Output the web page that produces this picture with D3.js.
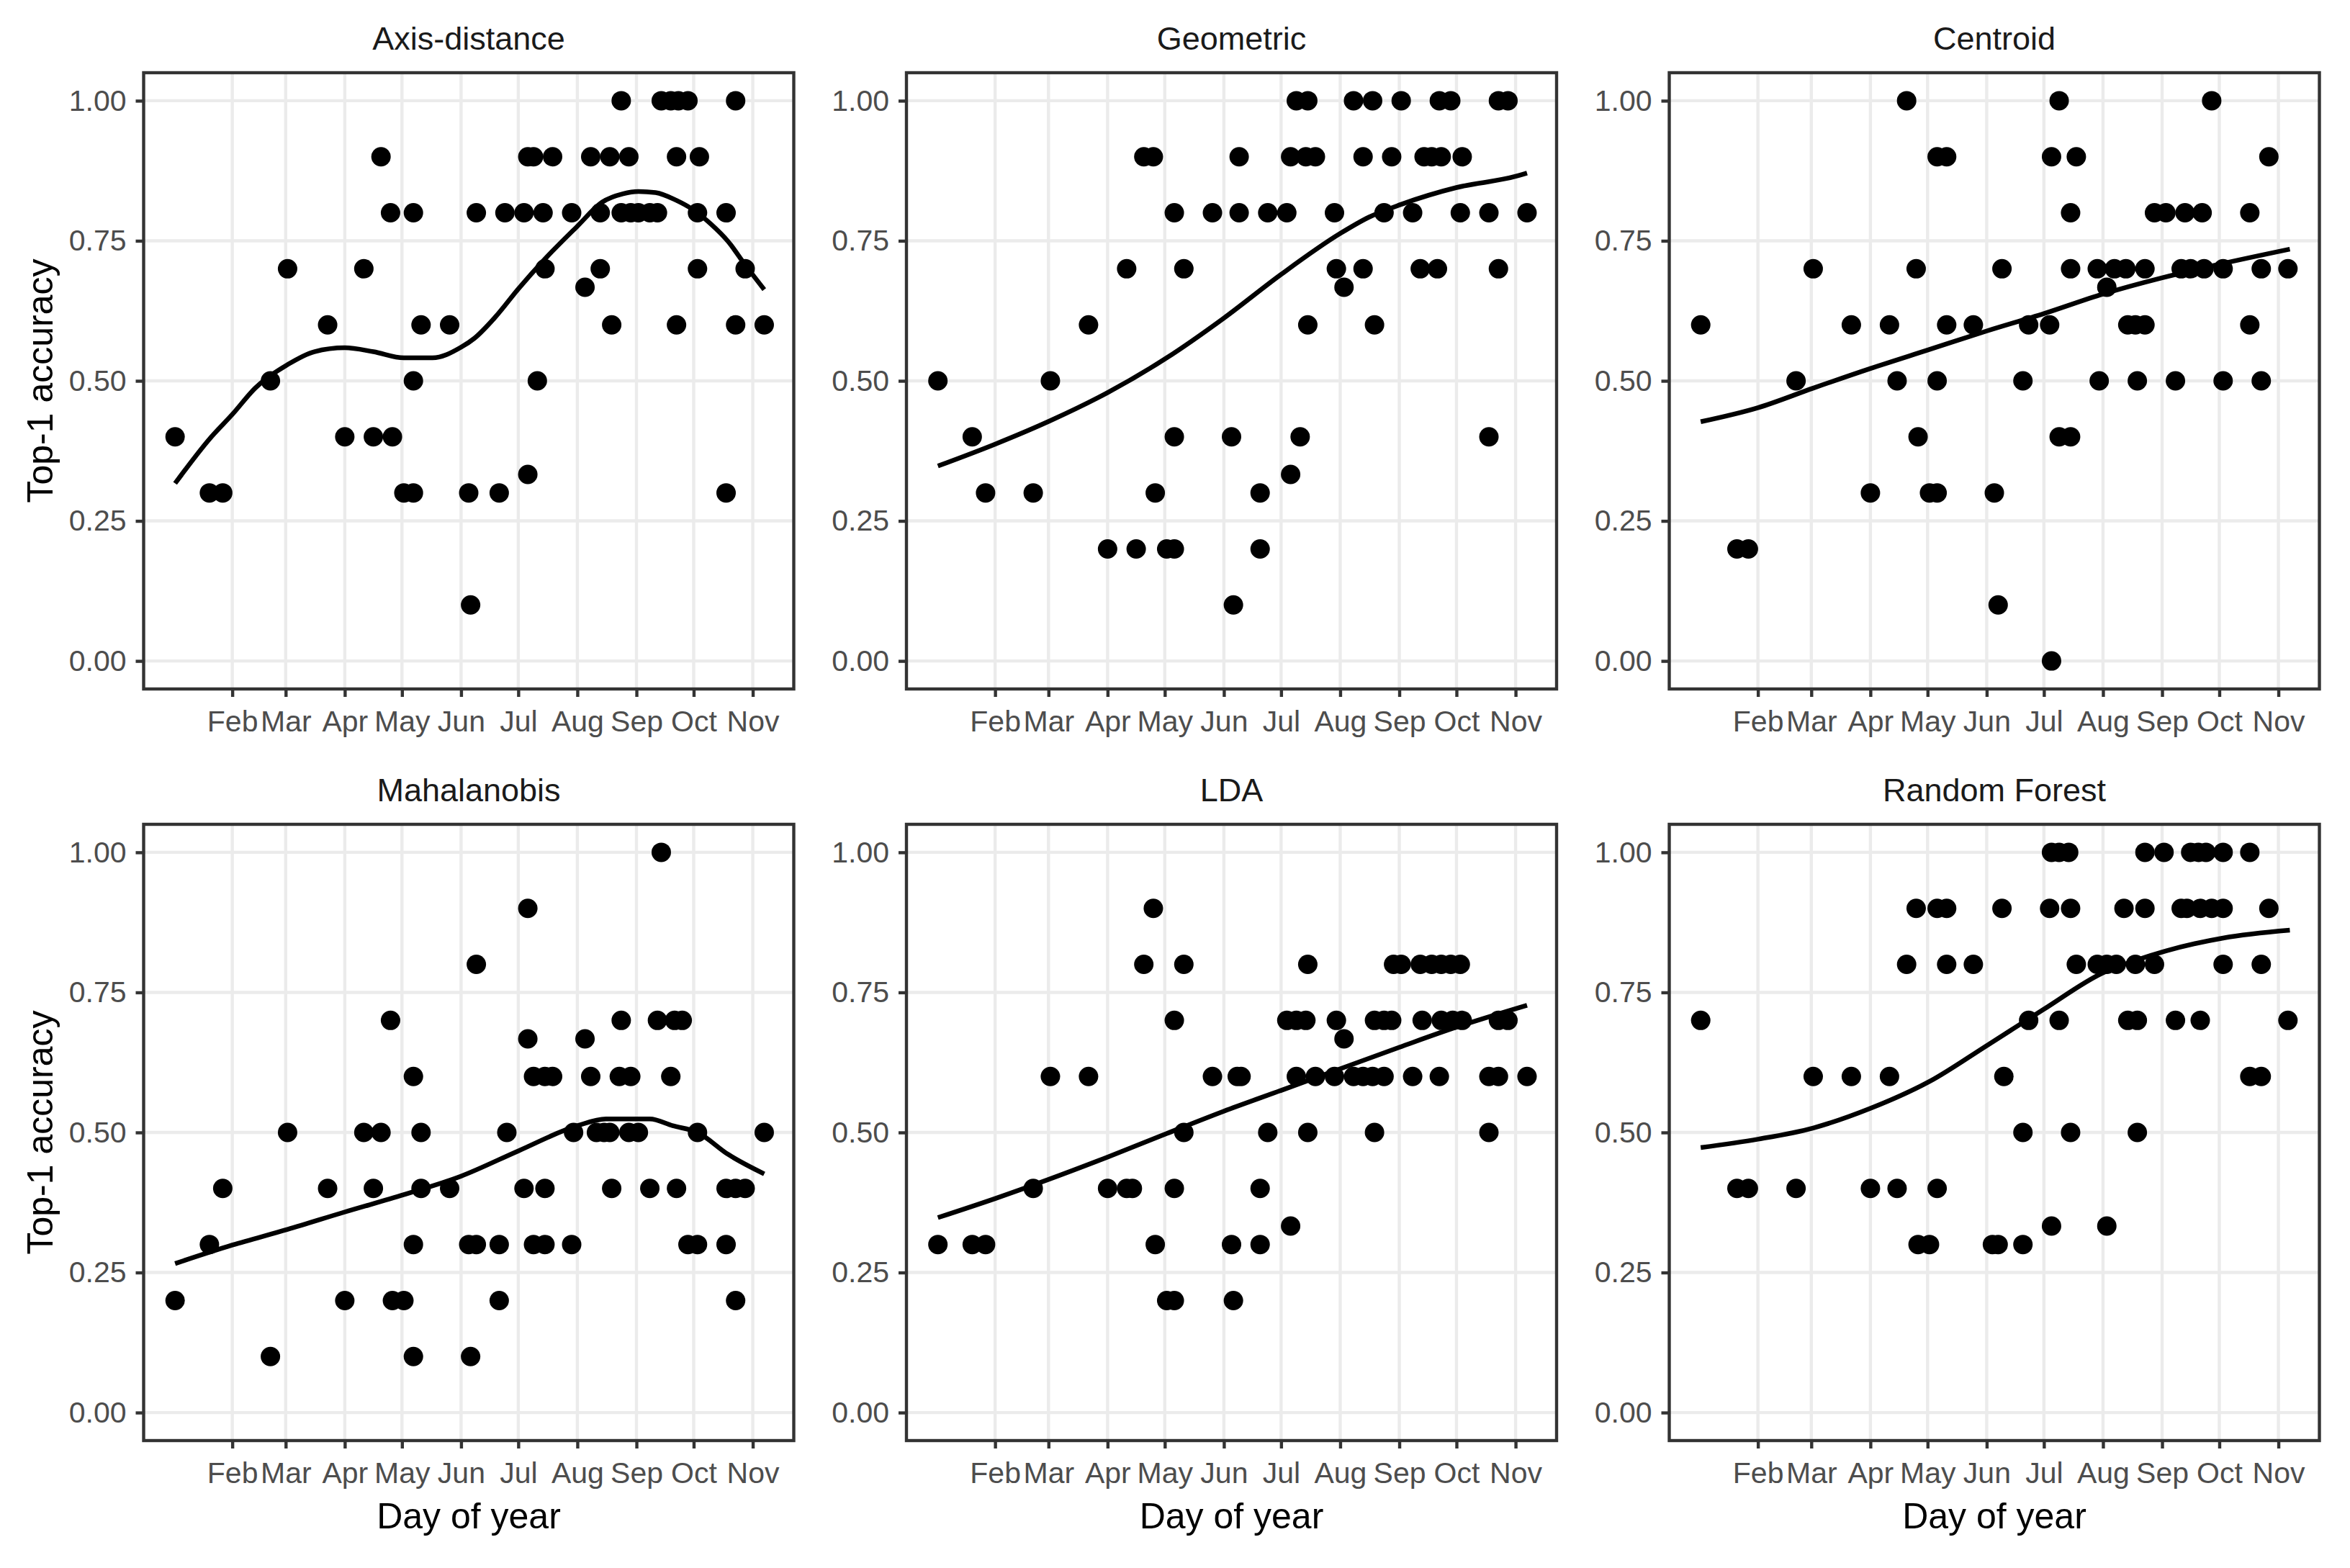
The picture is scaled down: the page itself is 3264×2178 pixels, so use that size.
<!DOCTYPE html>
<html>
<head>
<meta charset="utf-8">
<script src="https://cdn.jsdelivr.net/npm/d3@7"></script>
<style>
  body { margin: 0; background: #fff; }
  text { font-family: "Liberation Sans", Arial, sans-serif; }
</style>
</head>
<body>
<svg id="chart"></svg>
<script>

// panel titles, in facet order
const methods = ["Axis-distance", "Geometric", "Centroid", "Mahalanobis", "LDA", "Random Forest"];

// x ticks: first day of each month (day of year)
const monthDays = [32, 60, 91, 121, 152, 182, 213, 244, 274, 305];
const monthLabels = ["Feb", "Mar", "Apr", "May", "Jun", "Jul", "Aug", "Sep", "Oct", "Nov"];
const accTicks = [0, 0.25, 0.5, 0.75, 1];

// [day of year, top-1 accuracy]
const axisDistancePts = [[2,0.4],[20,0.3],[27,0.3],[52,0.5],[61,0.7],[82,0.6],[91,0.4],[101,0.7],[106,0.4],[110,0.9],
  [115,0.8],[116,0.4],[122,0.3],[127,0.8],[127,0.5],[127,0.3],[131,0.6],[146,0.6],[156,0.3],[157,0.1],[160,0.8],
  [172,0.3],[175,0.8],[185,0.8],[187,0.9],[187,0.333],[190,0.9],[192,0.5],[195,0.8],[196,0.7],[200,0.9],[210,0.8],
  [217,0.667],[220,0.9],[225,0.8],[225,0.7],[230,0.9],[231,0.6],[236,1],[236,0.8],[240,0.9],[241,0.8],[245,0.8],
  [251,0.8],[255,0.8],[257,1],[262,1],[265,0.9],[265,0.6],[266,1],[271,1],[276,0.8],[277,0.9],[276,0.7],[291,0.3],
  [291,0.8],[296,1],[296,0.6],[301,0.7],[311,0.6]];

const geometricPts = [[190,1],[196,1],[220,1],[230,1],[245,1],[265,1],[271,1],[296,1],[301,1],
  [110,0.9],[115,0.9],[160,0.9],[187,0.9],[195,0.9],[200,0.9],[225,0.9],[240,0.9],[257,0.9],[261,0.9],[266,0.9],[277,0.9],
  [126,0.8],[146,0.8],[160,0.8],[175,0.8],[185,0.8],[210,0.8],[236,0.8],[251,0.8],[276,0.8],[291,0.8],[311,0.8],
  [101,0.7],[131,0.7],[211,0.7],[225,0.7],[255,0.7],[264,0.7],[296,0.7],[215,0.667],
  [81,0.6],[196,0.6],[231,0.6],[2,0.5],[61,0.5],
  [20,0.4],[126,0.4],[156,0.4],[192,0.4],[291,0.4],[187,0.333],
  [27,0.3],[52,0.3],[116,0.3],[171,0.3],
  [91,0.2],[106,0.2],[122,0.2],[126,0.2],[171,0.2],[157,0.1]];

const centroidPts = [[110,1],[190,1],[270,1],
  [126,0.9],[131,0.9],[186,0.9],[199,0.9],[300,0.9],
  [196,0.8],[240,0.8],[246,0.8],[256,0.8],[265,0.8],[290,0.8],
  [61,0.7],[115,0.7],[160,0.7],[196,0.7],[210,0.7],[219,0.7],[225,0.7],[235,0.7],[254,0.7],[259,0.7],[266,0.7],
  [276,0.7],[296,0.7],[310,0.7],[215,0.667],
  [2,0.6],[81,0.6],[101,0.6],[131,0.6],[145,0.6],[174,0.6],[185,0.6],[226,0.6],[230,0.6],[235,0.6],[290,0.6],
  [52,0.5],[105,0.5],[126,0.5],[171,0.5],[211,0.5],[231,0.5],[251,0.5],[276,0.5],[296,0.5],
  [116,0.4],[190,0.4],[196,0.4],
  [91,0.3],[122,0.3],[126,0.3],[156,0.3],
  [21,0.2],[27,0.2],[158,0.1],[186,0]];

const mahalanobisPts = [[257,1],[187,0.9],[160,0.8],
  [115,0.7],[236,0.7],[255,0.7],[264,0.7],[268,0.7],[187,0.667],[217,0.667],
  [127,0.6],[190,0.6],[196,0.6],[200,0.6],[220,0.6],[235,0.6],[241,0.6],[262,0.6],
  [61,0.5],[101,0.5],[110,0.5],[131,0.5],[176,0.5],[211,0.5],[223,0.5],[227,0.5],[230,0.5],[240,0.5],[245,0.5],
  [276,0.5],[311,0.5],
  [27,0.4],[82,0.4],[106,0.4],[131,0.4],[146,0.4],[185,0.4],[196,0.4],[231,0.4],[251,0.4],[265,0.4],[291,0.4],
  [296,0.4],[301,0.4],
  [20,0.3],[127,0.3],[156,0.3],[160,0.3],[172,0.3],[190,0.3],[196,0.3],[210,0.3],[271,0.3],[276,0.3],[291,0.3],
  [2,0.2],[91,0.2],[116,0.2],[122,0.2],[172,0.2],[296,0.2],
  [52,0.1],[127,0.1],[157,0.1]];

const ldaPts = [[115,0.9],
  [110,0.8],[131,0.8],[196,0.8],[241,0.8],[245,0.8],[255,0.8],[261,0.8],[266,0.8],[271,0.8],[276,0.8],
  [126,0.7],[185,0.7],[190,0.7],[195,0.7],[211,0.7],[231,0.7],[236,0.7],[240,0.7],[256,0.7],[266,0.7],[272,0.7],
  [277,0.7],[296,0.7],[301,0.7],[215,0.667],
  [61,0.6],[81,0.6],[146,0.6],[159,0.6],[161,0.6],[190,0.6],[200,0.6],[210,0.6],[220,0.6],[225,0.6],[230,0.6],
  [236,0.6],[251,0.6],[265,0.6],[291,0.6],[296,0.6],[311,0.6],
  [131,0.5],[175,0.5],[196,0.5],[231,0.5],[291,0.5],
  [52,0.4],[91,0.4],[101,0.4],[104,0.4],[126,0.4],[171,0.4],[187,0.333],
  [2,0.3],[20,0.3],[27,0.3],[116,0.3],[156,0.3],[171,0.3],
  [122,0.2],[126,0.2],[157,0.2]];

const randomForestPts = [[186,1],[190,1],[195,1],[235,1],[245,1],[259,1],[263,1],[267,1],[276,1],[290,1],
  [115,0.9],[126,0.9],[131,0.9],[160,0.9],[185,0.9],[196,0.9],[224,0.9],[235,0.9],[254,0.9],[257,0.9],[264,0.9],
  [270,0.9],[276,0.9],[300,0.9],
  [110,0.8],[131,0.8],[145,0.8],[199,0.8],[210,0.8],[215,0.8],[220,0.8],[230,0.8],[240,0.8],[276,0.8],[296,0.8],
  [2,0.7],[174,0.7],[190,0.7],[226,0.7],[231,0.7],[251,0.7],[264,0.7],[310,0.7],
  [61,0.6],[81,0.6],[101,0.6],[161,0.6],[290,0.6],[296,0.6],
  [171,0.5],[196,0.5],[231,0.5],
  [21,0.4],[27,0.4],[52,0.4],[91,0.4],[105,0.4],[126,0.4],
  [186,0.333],[215,0.333],
  [116,0.3],[122,0.3],[155,0.3],[158,0.3],[171,0.3]];

// smoothed fits
const axisDistanceFit = [[2,0.317],[21,0.40],[32,0.44],[44,0.487],[61,0.529],[75,0.552],[91,0.559],[106,0.552],
  [122,0.541],[137,0.541],[152,0.56],[159,0.576],[170,0.614],[182,0.664],[195,0.714],[213,0.776],[226,0.819],
  [237,0.834],[245,0.838],[254,0.836],[265,0.822],[273,0.807],[283,0.78],[292,0.749],[301,0.707],[311,0.663]];
const geometricFit = [[2,0.348],[32,0.387],[61,0.429],[91,0.479],[122,0.541],[152,0.612],[182,0.69],[213,0.763],
  [228,0.792],[245,0.815],[274,0.845],[305,0.865],[311,0.871]];
const centroidFit = [[2,0.427],[32,0.452],[61,0.487],[91,0.522],[122,0.556],[152,0.589],[182,0.62],[213,0.655],
  [244,0.684],[274,0.708],[311,0.735]];
const mahalanobisFit = [[2,0.266],[32,0.299],[61,0.327],[91,0.358],[122,0.389],[152,0.422],[182,0.467],[213,0.512],
  [228,0.524],[251,0.524],[263,0.512],[276,0.5],[292,0.461],[311,0.426]];
const ldaFit = [[2,0.348],[32,0.382],[91,0.456],[122,0.498],[152,0.538],[182,0.575],[244,0.652],[274,0.688],[311,0.727]];
const randomForestFit = [[2,0.473],[32,0.488],[61,0.508],[91,0.543],[122,0.591],[152,0.655],[182,0.72],[213,0.785],
  [230,0.807],[246,0.824],[276,0.847],[311,0.861]];

const allPts = [axisDistancePts, geometricPts, centroidPts, mahalanobisPts, ldaPts, randomForestPts];
const allFits = [axisDistanceFit, geometricFit, centroidFit, mahalanobisFit, ldaFit, randomForestFit];

const W = 3264, H = 2178;
const panelW = 903, panelH = 856;
const colX = [199.5, 1259, 2318.5];
const rowY = [101, 1145];
const gridCol = "#EBEBEB", inkCol = "#333333";

let svg = d3.select("#chart").attr("width", W).attr("height", H);
svg.append("rect").attr("width", W).attr("height", H).attr("fill", "#fff");

// same scales for every facet
let x = d3.scaleLinear().domain([-14.5, 326.5]).range([0, panelW]);
let y = d3.scaleLinear().domain([-0.05, 1.05]).range([panelH, 0]);

let line = d3.line()
    .x(d => x(d[0]))
    .y(d => y(d[1]))
    .curve(d3.curveMonotoneX);

methods.forEach(function(name, i) {
  let col = i % 3, row = Math.floor(i / 3);
  let g = svg.append("g").attr("transform", "translate(" + colX[col] + "," + rowY[row] + ")");

  // grid
  g.selectAll(".vgrid").data(monthDays).enter().append("line")
      .attr("x1", d => x(d)).attr("x2", d => x(d))
      .attr("y1", 0).attr("y2", panelH)
      .attr("stroke", gridCol).attr("stroke-width", 4.4);
  g.selectAll(".hgrid").data(accTicks).enter().append("line")
      .attr("x1", 0).attr("x2", panelW)
      .attr("y1", d => y(d)).attr("y2", d => y(d))
      .attr("stroke", gridCol).attr("stroke-width", 4.4);

  let yAxis = g.append("g")
      .call(d3.axisLeft(y).tickValues(accTicks).tickFormat(d3.format(".2f")).tickSize(11).tickPadding(13));
  let xAxis = g.append("g")
      .attr("transform", "translate(0," + panelH + ")")
      .call(d3.axisBottom(x).tickValues(monthDays).tickFormat((d, k) => monthLabels[k]).tickSize(11).tickPadding(19));
  [xAxis, yAxis].forEach(function(a) {
    a.select(".domain").remove();
    a.selectAll(".tick line").attr("stroke", inkCol).attr("stroke-width", 4.4);
    a.selectAll(".tick text").attr("fill", "#4D4D4D").attr("font-size", 41)
        .attr("font-family", "'Liberation Sans', Arial, sans-serif");
  });

  g.selectAll(".pt").data(allPts[i]).enter().append("circle")
      .attr("cx", d => x(d[0]))
      .attr("cy", d => y(d[1]))
      .attr("r", 13.5)
      .attr("fill", "#000");

  g.append("path")
      .datum(allFits[i])
      .attr("fill", "none")
      .attr("stroke", "#000")
      .attr("stroke-width", 6.5)
      .attr("stroke-linejoin", "round")
      .attr("d", line);

  g.append("rect")
      .attr("width", panelW).attr("height", panelH)
      .attr("fill", "none").attr("stroke", inkCol).attr("stroke-width", 4.4);

  // facet title
  g.append("text")
      .attr("x", panelW / 2).attr("y", -32)
      .attr("text-anchor", "middle")
      .attr("font-size", 45).attr("fill", "#1A1A1A")
      .text(name);

  if (row === 1) {
    g.append("text")
        .attr("x", panelW / 2).attr("y", 2123 - rowY[1])
        .attr("text-anchor", "middle")
        .attr("font-size", 50).attr("fill", "#000")
        .text("Day of year");
  }
});

rowY.forEach(function(top) {
  svg.append("text")
      .attr("transform", "translate(73," + (top + panelH / 2) + ") rotate(-90)")
      .attr("text-anchor", "middle")
      .attr("font-size", 50).attr("fill", "#000")
      .text("Top-1 accuracy");
});

</script>
</body>
</html>
